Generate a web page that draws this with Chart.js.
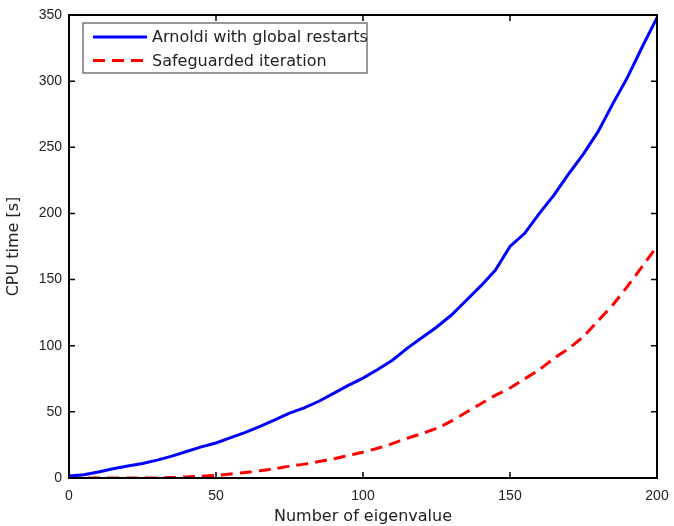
<!DOCTYPE html>
<html lang="en">
  <head>
    <meta charset="UTF-8" />
    <title>CPU time vs number of eigenvalue</title>
    <style>
      html, body { margin: 0; padding: 0; background: #fff; }
      #wrap { width: 674px; height: 526px; }
    </style>
  </head>
  <body>
    <div id="wrap"><canvas id="graphic" width="674" height="526"></canvas></div>
    <script src="https://cdn.jsdelivr.net/npm/chart.js"></script>
    <script>
      // data
      const eigenNumbers = [0, 5, 10, 15, 20, 25, 30, 35, 40, 45, 50, 55, 60, 65, 70, 75, 80, 85, 90, 95,
        100, 105, 110, 115, 120, 125, 130, 135, 140, 145, 150, 155, 160, 165, 170, 175, 180, 185, 190, 195, 200];
      const arnoldiTimes = [1.5, 2.5, 4.5, 7, 9, 11, 13.5, 16.5, 20, 23.5, 26.5, 30.5, 34.5, 39, 44, 49, 53, 58, 64, 70,
        75.5, 82, 89, 98, 106, 114, 123, 134, 145, 157, 175, 185, 200, 214, 230, 245, 262, 283, 303, 326, 348];
      const safeguardedTimes = [0, 0, 0, 0, 0, 0, 0, 0.3, 0.8, 1.3, 2, 3, 4.2, 5.5, 7, 9, 10.5, 12.5, 14.5, 17,
        19.5, 22.5, 26, 30, 33.5, 37.5, 43, 49.5, 56, 62.5, 68, 75, 82, 90.5, 98, 107, 119, 131, 145, 160, 175];
      const xTicks = [0, 50, 100, 150, 200];
      const yTicks = [0, 50, 100, 150, 200, 250, 300, 350];

      const TICK_FONT = "'Liberation Sans', Arial, Helvetica, sans-serif";
      const LABEL_FONT = "'DejaVu Sans', Verdana, sans-serif";
      const TEXT = "#222";

      // MATLAB style box, inward ticks and legend inside the axes
      const matlabAxes = {
        id: "matlabAxes",
        afterDraw(chart) {
          const { ctx, chartArea: a, scales } = chart;
          ctx.save();
          ctx.strokeStyle = "#000";
          ctx.lineWidth = 1.5;
          ctx.beginPath();
          xTicks.forEach((v) => {
            const px = scales.x.getPixelForValue(v);
            ctx.moveTo(px, a.bottom); ctx.lineTo(px, a.bottom - 6);
            ctx.moveTo(px, a.top); ctx.lineTo(px, a.top + 6);
          });
          yTicks.forEach((v) => {
            const py = scales.y.getPixelForValue(v);
            ctx.moveTo(a.left, py); ctx.lineTo(a.left + 6, py);
            ctx.moveTo(a.right, py); ctx.lineTo(a.right - 6, py);
          });
          ctx.stroke();
          ctx.lineWidth = 2;
          ctx.strokeRect(a.left, a.top, a.right - a.left, a.bottom - a.top);

          // legend
          const bx = a.left + 14, by = a.top + 8, bw = 284, bh = 50;
          ctx.fillStyle = "#fff";
          ctx.fillRect(bx, by, bw, bh);
          ctx.strokeStyle = "#777";
          ctx.lineWidth = 1.5;
          ctx.strokeRect(bx, by, bw, bh);
          ctx.font = "16px " + LABEL_FONT;
          ctx.textBaseline = "middle";
          chart.data.datasets.forEach((ds, i) => {
            const ly = by + 14 + i * 23.5;
            ctx.strokeStyle = ds.borderColor;
            ctx.lineWidth = ds.borderWidth;
            ctx.setLineDash(ds.borderDash || []);
            ctx.beginPath();
            ctx.moveTo(bx + 10, ly);
            ctx.lineTo(bx + 64, ly);
            ctx.stroke();
            ctx.setLineDash([]);
            ctx.fillStyle = TEXT;
            ctx.fillText(ds.label, bx + 69, ly + 1);
          });
          ctx.restore();
        },
      };

      const lienzo = document.getElementById("graphic");
      new Chart(lienzo, {
        type: "line",
        data: {
          datasets: [
            {
              label: "Arnoldi with global restarts",
              data: eigenNumbers.map((x, i) => ({ x: x, y: arnoldiTimes[i] })),
              borderColor: "#0000ff",
              borderWidth: 3,
              pointRadius: 0,
              tension: 0,
            },
            {
              label: "Safeguarded iteration",
              data: eigenNumbers.map((x, i) => ({ x: x, y: safeguardedTimes[i] })),
              borderColor: "#ff0000",
              borderWidth: 3,
              borderDash: [12, 7],
              pointRadius: 0,
              tension: 0.2,
            },
          ],
        },
        options: {
          responsive: false,
          animation: false,
          layout: { padding: { top: 15, right: 17, left: 0, bottom: 0 } },
          plugins: { legend: { display: false }, tooltip: { enabled: false } },
          scales: {
            x: {
              type: "linear",
              min: 0,
              max: 200,
              afterBuildTicks: (s) => { s.ticks = xTicks.map((v) => ({ value: v })); },
              afterFit: (s) => { s.height = 48; s.paddingLeft = 0; s.paddingRight = 0; },
              grid: { display: false, drawTicks: false },
              border: { display: false },
              ticks: { color: TEXT, font: { family: TICK_FONT, size: 14 }, padding: 10, maxRotation: 0 },
              title: { display: true, text: "Number of eigenvalue", color: TEXT, font: { family: LABEL_FONT, size: 16 }, padding: { top: 2, bottom: 0 } },
            },
            y: {
              min: 0,
              max: 350,
              afterBuildTicks: (s) => { s.ticks = yTicks.map((v) => ({ value: v })); },
              afterFit: (s) => { s.width = 69; s.paddingTop = 0; s.paddingBottom = 0; },
              grid: { display: false, drawTicks: false },
              border: { display: false },
              ticks: { color: TEXT, font: { family: TICK_FONT, size: 14 }, padding: 7 },
              title: { display: true, text: "CPU time [s]", color: TEXT, font: { family: LABEL_FONT, size: 16 }, padding: { top: 4, bottom: 4 } },
            },
          },
        },
        plugins: [matlabAxes],
      });
    </script>
  </body>
</html>
